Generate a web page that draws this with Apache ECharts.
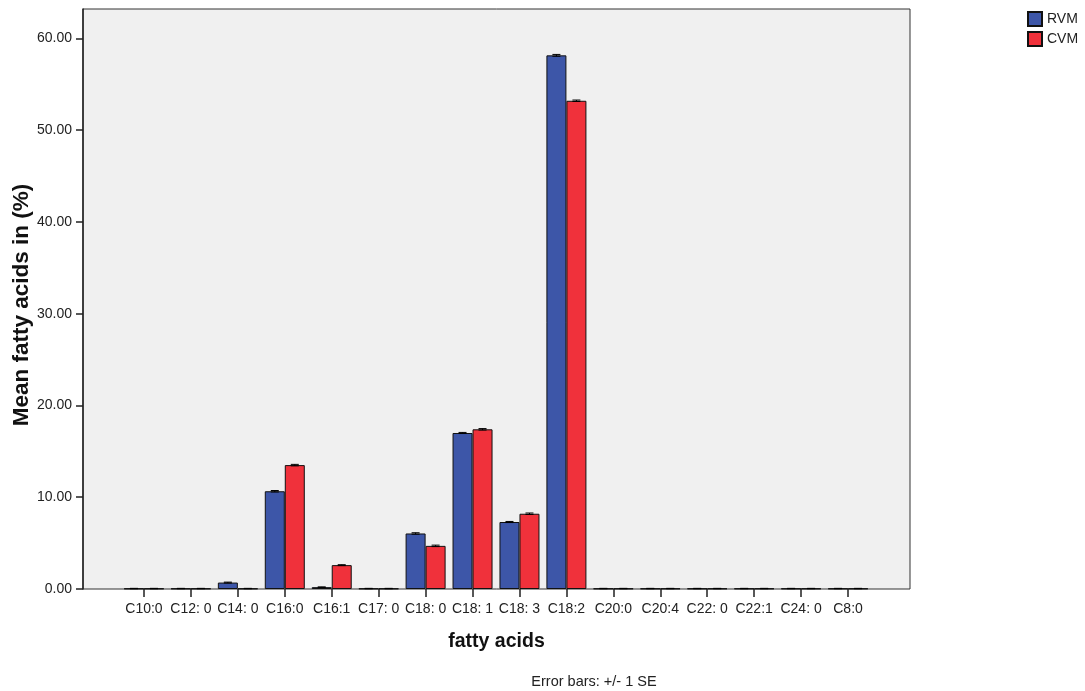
<!DOCTYPE html>
<html>
<head>
<meta charset="utf-8">
<script src="https://cdn.jsdelivr.net/npm/echarts@6/dist/echarts.min.js"></script>
<style>html,body{margin:0;padding:0;background:#fff}#c{width:1085px;height:691px}</style>
</head>
<body>
<div id="c"></div>
<script>
var categories = ['C10:0','C12: 0','C14: 0','C16:0','C16:1','C17: 0','C18: 0','C18: 1','C18: 3','C18:2','C20:0','C20:4','C22: 0','C22:1','C24: 0','C8:0'];
var rvmValues = [0.05,0.05,0.70,10.65,0.20,0.05,6.05,17.00,7.30,58.15,0.05,0.05,0.05,0.05,0.05,0.05];
var cvmValues = [0.05,0.05,0.05,13.50,2.60,0.05,4.70,17.40,8.20,53.20,0.05,0.05,0.05,0.05,0.05,0.05];
var rvmSE = [0.02,0.02,0.05,0.08,0.03,0.02,0.08,0.06,0.06,0.10,0.02,0.02,0.02,0.02,0.02,0.02];
var cvmSE = [0.02,0.02,0.02,0.08,0.05,0.02,0.08,0.08,0.08,0.08,0.02,0.02,0.02,0.02,0.02,0.02];
var yTicks = [0,10,20,30,40,50,60];

var FONT = 'Liberation Sans, Arial, sans-serif';
var YMAX = 63.2;
var BLUE = '#3d56a8';
var RED = '#f0313b';

function errData(vals, se){
  return vals.map(function(v,i){ return [i, v, se[i]]; });
}
function errRender(offset){
  return function(params, api){
    var idx = api.value(0), v = api.value(1), s = api.value(2);
    var top = api.coord([idx, v + s]);
    var bot = api.coord([idx, v - s]);
    var x = top[0] + offset;
    var hw = 4;
    var st = {stroke:'#000', lineWidth:1};
    return {type:'group', children:[
      {type:'line', shape:{x1:x,y1:top[1],x2:x,y2:bot[1]}, style:st},
      {type:'line', shape:{x1:x-hw,y1:top[1],x2:x+hw,y2:top[1]}, style:st},
      {type:'line', shape:{x1:x-hw,y1:bot[1],x2:x+hw,y2:bot[1]}, style:st}
    ]};
  };
}

var chart = echarts.init(document.getElementById('c'), null, {renderer:'canvas'});
chart.setOption({
  backgroundColor:'#fff',
  animation:false,
  textStyle:{fontFamily:FONT},
  legend:{
    orient:'vertical', left:1027, top:11, padding:0, itemWidth:14, itemHeight:14, itemGap:4, icon:'rect',
    textStyle:{fontFamily:FONT, fontSize:14, color:'#222'},
    data:['RVM','CVM']
  },
  grid:[
    {left:83, right:175, top:9, bottom:102, show:true, backgroundColor:'#f0f0f0', borderColor:'#333', borderWidth:1},
    {left:120.5, right:213.5, top:9, bottom:102, show:false}
  ],
  xAxis:[
    {gridIndex:0, type:'value', min:0, max:1, show:false},
    {gridIndex:1, type:'category', data:categories,
     axisLine:{show:false},
     axisTick:{show:true, alignWithLabel:true, length:8, lineStyle:{color:'#222', width:1.5}},
     axisLabel:{fontFamily:FONT, fontSize:14, color:'#222', margin:13, interval:0}
    }
  ],
  yAxis:[
    {gridIndex:0, type:'value', min:0, max:YMAX,
     axisLine:{show:true, lineStyle:{color:'#222', width:1.5}},
     axisTick:{show:true, length:7, customValues:yTicks, lineStyle:{color:'#222', width:1.5}},
     splitLine:{show:false},
     axisLabel:{fontFamily:FONT, fontSize:14, color:'#222', margin:11, customValues:yTicks,
       formatter:function(v){ return v.toFixed(2); }}
    },
    {gridIndex:1, type:'value', min:0, max:YMAX, show:false}
  ],
  series:[
    {name:'RVM', type:'bar', xAxisIndex:1, yAxisIndex:1, data:rvmValues, barWidth:20, barGap:'0%',
     itemStyle:{color:BLUE, borderColor:'#111', borderWidth:1}},
    {name:'CVM', type:'bar', xAxisIndex:1, yAxisIndex:1, data:cvmValues, barWidth:20, barGap:'0%',
     itemStyle:{color:RED, borderColor:'#111', borderWidth:1}},
    {type:'custom', xAxisIndex:1, yAxisIndex:1, data:errData(rvmValues, rvmSE), renderItem:errRender(-10), z:5},
    {type:'custom', xAxisIndex:1, yAxisIndex:1, data:errData(cvmValues, cvmSE), renderItem:errRender(10), z:5}
  ],
  graphic:[
    {type:'text', x:22, y:305, rotation:Math.PI/2, style:{text:'Mean fatty acids in (%)', fontFamily:FONT, fontWeight:'bold', fontSize:22.5, fill:'#111', align:'center', verticalAlign:'middle'}},
    {type:'text', x:496.5, y:642, style:{text:'fatty acids', fontFamily:FONT, fontWeight:'bold', fontSize:19.5, fill:'#111', align:'center', verticalAlign:'middle'}},
    {type:'text', x:594, y:682, style:{text:'Error bars: +/- 1 SE', fontFamily:FONT, fontSize:14.5, fill:'#222', align:'center', verticalAlign:'middle'}}
  ]
});
</script>
</body>
</html>
